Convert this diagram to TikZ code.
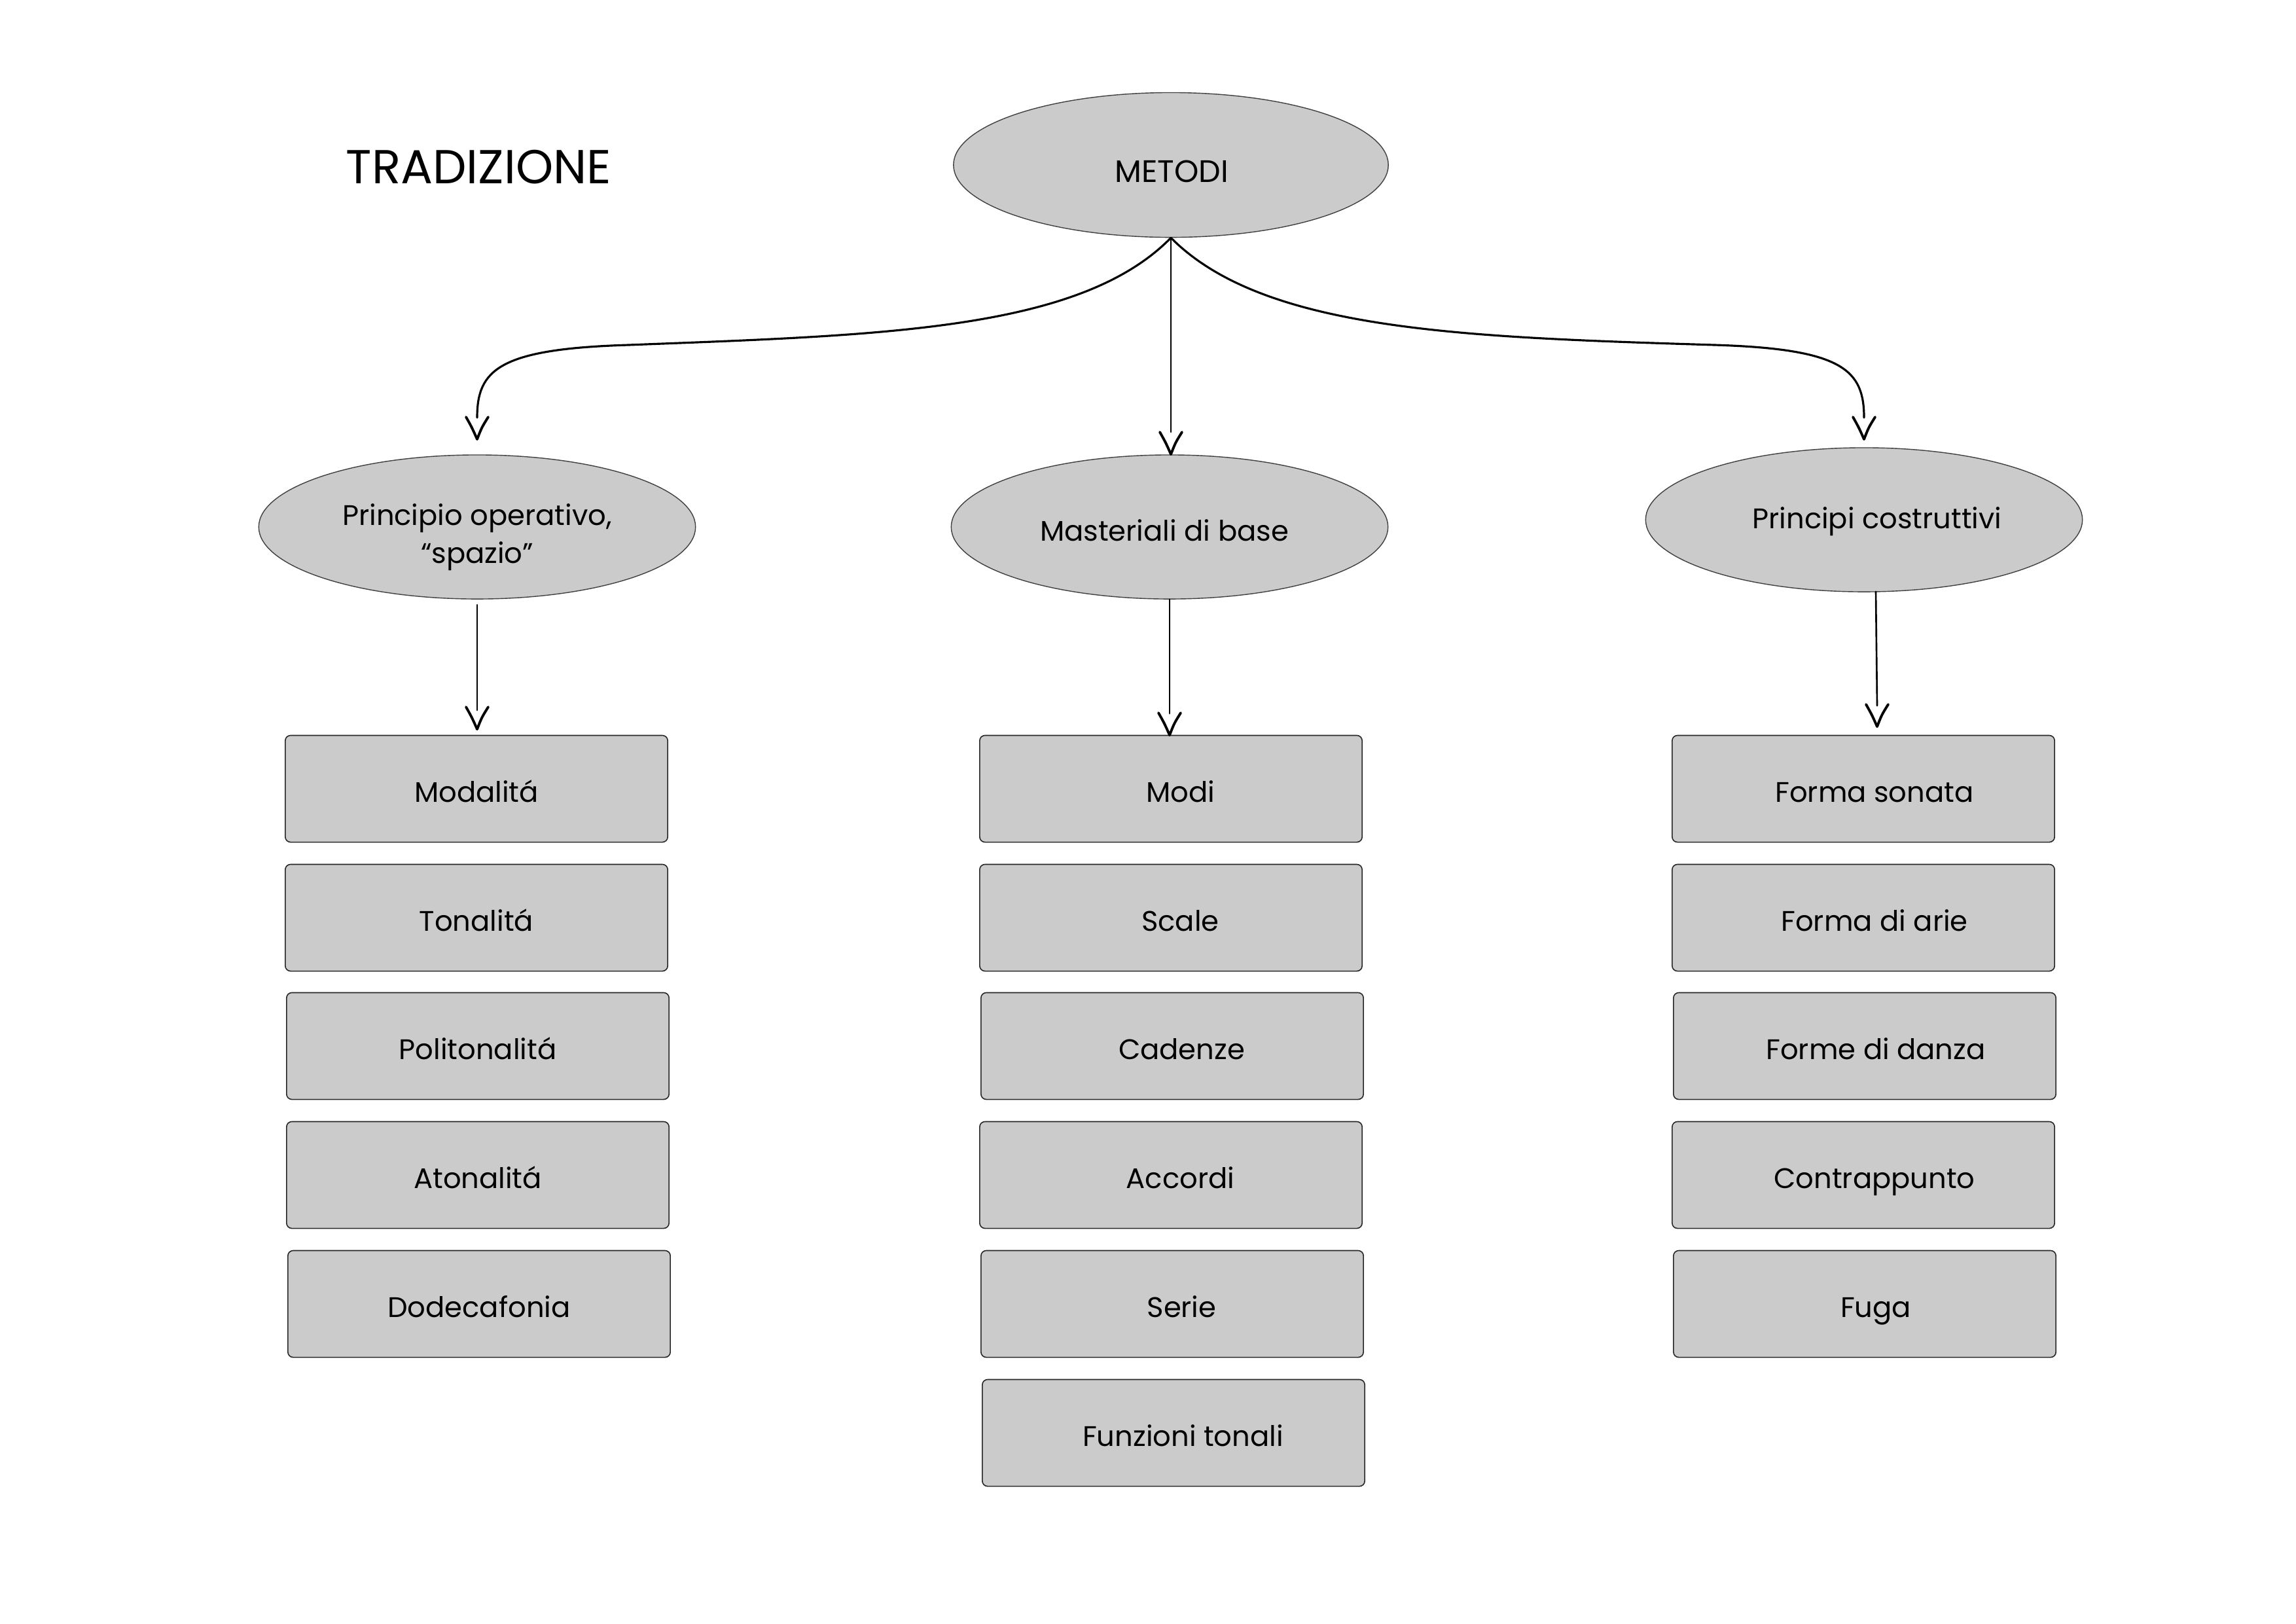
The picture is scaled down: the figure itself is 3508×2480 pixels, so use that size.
\documentclass[tikz,border=0pt]{standalone}
\usepackage{fontspec}
\setmainfont{Poppins}
\usetikzlibrary{shapes.geometric,calc}
\definecolor{nodegray}{HTML}{CBCBCB}
\tikzset{
  ell/.style={ellipse,draw=black!75,line width=0.4pt,fill=nodegray,minimum width=6.67cm,minimum height=2.2cm,inner sep=0pt},
  etxt/.style={inner sep=0pt,align=center,font=\fontsize{12.3}{16.5}\selectfont},
  box/.style={rectangle,rounded corners=2.3pt,draw=black!85,line width=0.45pt,fill=nodegray,minimum width=5.84cm,minimum height=1.63cm,inner sep=0pt,text height=0.41cm,text depth=0pt,font=\fontsize{12.3}{14}\selectfont},
  midcol/.style={box,execute at begin node={\hspace*{0.29cm}}},
  rightcol/.style={box,execute at begin node={\hspace*{0.34cm}}},
  conn/.style={line width=0.9pt,line cap=round},
  vconn/.style={line width=0.75pt,line cap=round},
  headv/.pic={\draw[line width=1.1pt,line cap=round,line join=round] (-17,-34) .. controls (-8,-18) .. (0,0) .. controls (7,-18) .. (17,-34);}
}
\begin{document}
\begin{tikzpicture}[x=0.01cm,y=-0.01cm]
\useasboundingbox (0,0) rectangle (3508,2480);

% title
\node[anchor=west,inner sep=0pt,font=\fontsize{20.7}{24}\selectfont] (title) at (528,255) {TRADIZIONE};

% ellipses
\node[ell,minimum width=6.64cm,minimum height=2.21cm] (metodi) at (1789,252) {};
\node[etxt,font=\fontsize{13.5}{16}\selectfont] (metoditxt) at (1790,262) {METODI};
\node[ell] (oper) at (729,805) {};
\node[etxt] (opertxt) at (729,821) {Principio operativo,\\“spazio”};
\node[ell] (mat) at (1787,805) {};
\node[etxt] (mattxt) at (1779,810) {Masteriali di base};
\node[ell] (costr) at (2848,794) {};
\node[etxt] (costrtxt) at (2868,797) {Principi costruttivi};

% left column
\node[box] (l1) at (728,1205) {Modalitá};
\node[box] (l2) at (728,1402) {Tonalitá};
\node[box] (l3) at (730,1598) {Politonalitá};
\node[box] (l4) at (730,1795) {Atonalitá};
\node[box] (l5) at (732,1992) {Dodecafonia};

% middle column
\node[midcol] (m1) at (1789,1205) {Modi};
\node[midcol] (m2) at (1789,1402) {Scale};
\node[midcol] (m3) at (1791,1598) {Cadenze};
\node[midcol] (m4) at (1789,1795) {Accordi};
\node[midcol] (m5) at (1791,1992) {Serie};
\node[midcol] (m6) at (1793,2189) {Funzioni tonali};

% right column
\node[rightcol] (r1) at (2847,1205) {Forma sonata};
\node[rightcol] (r2) at (2847,1402) {Forma di arie};
\node[rightcol] (r3) at (2849,1598) {Forme di danza};
\node[rightcol] (r4) at (2847,1795) {Contrappunto};
\node[rightcol] (r5) at (2849,1992) {Fuga};

% top connectors
\coordinate (e1) at (729,638);
\coordinate (e2) at (1789,660);
\coordinate (e3) at (2848,638);
\draw[conn] (metodi.south) .. controls (1650,505) and (1350,512) .. (960,527)
            .. controls (762,533) and (729,565) .. (e1);
\pic at (729,671) {headv};
\draw[vconn] (metodi.south) -- (e2);
\pic at (1789,694) {headv};
\draw[conn] (metodi.south) .. controls (1930,505) and (2230,515) .. (2620,527)
            .. controls (2815,533) and (2848,565) .. (e3);
\pic at (2848,671) {headv};

% lower connectors
\coordinate (s1) at (729,924);
\coordinate (s3) at (2866,904);
\coordinate (f1) at (729,1085);
\coordinate (f2) at (1787,1090);
\coordinate (f3) at (2868,1078);
\draw[vconn] (s1) -- (f1);
\pic at (729,1114) {headv};
\draw[vconn] (mat.south) -- (f2);
\pic at (1787,1123) {headv};
\draw[vconn] (s3) -- (f3);
\pic at (2868,1110) {headv};
\end{tikzpicture}
\end{document}
